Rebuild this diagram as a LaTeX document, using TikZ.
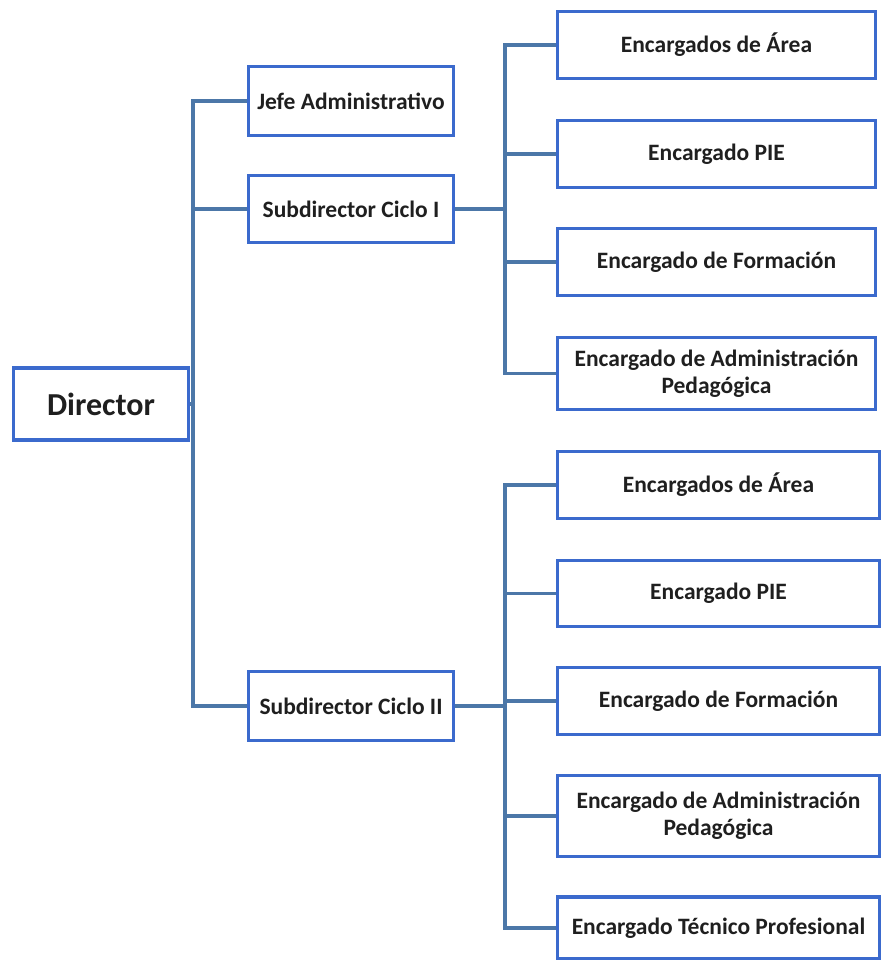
\documentclass[tikz,border=0pt]{standalone}
\usepackage{fontspec}
\setmainfont{Carlito}
\begin{document}
\begin{tikzpicture}[x=1pt,y=-1pt,
  box/.style={draw=boxblue,line width=3.5pt,fill=white,inner sep=0pt,align=center,font=\bfseries\fontsize{23.5}{27}\selectfont,text=black!88},
  link/.style={draw=linkblue,line width=3.5pt}]
\definecolor{boxblue}{HTML}{3B6ACD}
\definecolor{linkblue}{HTML}{4C77A8}
\useasboundingbox (0,0) rectangle (882,960);
% boxes
\node[box,minimum width=175pt,minimum height=72pt,font=\bfseries\fontsize{32}{35}\selectfont] (dir) at (101,404) {Director};
\node[box,minimum width=205pt,minimum height=69pt] (jefe) at (351,101) {Jefe Administrativo};
\node[box,minimum width=205pt,minimum height=67pt] (s1) at (351,209) {Subdirector Ciclo I};
\node[box,minimum width=205pt,minimum height=69pt] (s2) at (351,706) {Subdirector Ciclo II};
% column 1
\node[box,minimum width=318pt,minimum height=67pt] (a1) at (716.5,45) {Encargados de Área};
\node[box,minimum width=318pt,minimum height=67pt] (b1) at (716.5,154) {Encargado PIE};
\node[box,minimum width=318pt,minimum height=67pt] (c1) at (716.5,262) {Encargado de Formación};
\node[box,minimum width=318pt,minimum height=72pt] (d1) at (716.5,373.5) {Encargado de Administración\\Pedagógica};
% column 2
\node[box,minimum width=322pt,minimum height=67pt] (a2) at (718.5,485) {Encargados de Área};
\node[box,minimum width=322pt,minimum height=66pt] (b2) at (718.5,593.5) {Encargado PIE};
\node[box,minimum width=322pt,minimum height=67pt] (c2) at (718.5,701) {Encargado de Formación};
\node[box,minimum width=322pt,minimum height=81pt] (d2) at (718.5,816) {Encargado de Administración\\Pedagógica};
\node[box,minimum width=322pt,minimum height=62pt] (e2) at (718.5,928) {Encargado Técnico Profesional};
% trunk
\coordinate (t) at (193,0);
\coordinate (u) at (505,0);
\draw[link] (jefe.west) -- (jefe.west -| t) -- (s2.west -| t) -- (s2.west);
\draw[link] (s1.west -| t) -- (s1.west);
\draw[link] (dir.east) -- (dir.east -| t);
% group 1
\draw[link] (s1.east) -- (s1.east -| u);
\draw[link] (a1.west) -- (a1.west -| u) -- (d1.west -| u) -- (d1.west);
\draw[link] (b1.west -| u) -- (b1.west);
\draw[link] (c1.west -| u) -- (c1.west);
% group 2
\draw[link] (s2.east) -- (s2.east -| u);
\draw[link] (a2.west) -- (a2.west -| u) -- (e2.west -| u) -- (e2.west);
\draw[link] (b2.west -| u) -- (b2.west);
\draw[link] (c2.west -| u) -- (c2.west);
\draw[link] (d2.west -| u) -- (d2.west);
\end{tikzpicture}
\end{document}
